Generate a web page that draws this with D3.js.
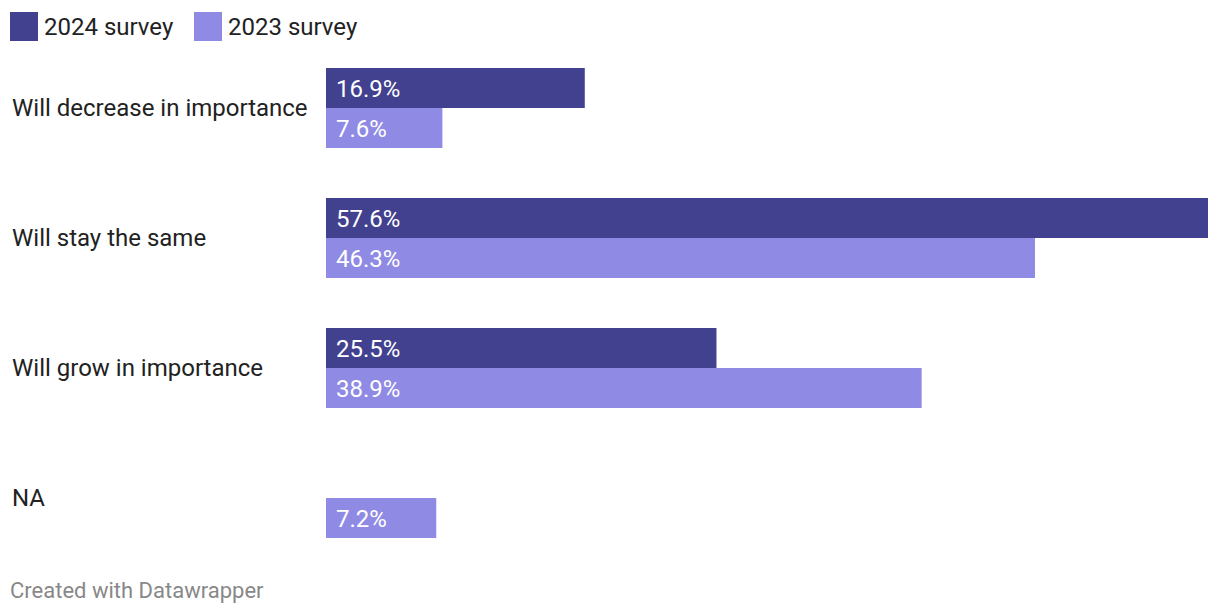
<!DOCTYPE html>
<html>
<head>
<meta charset="utf-8">
<script src="https://cdn.jsdelivr.net/npm/d3@7"></script>
<style>
  body { margin: 0; background: #fff; font-family: Roboto, sans-serif; }
</style>
</head>
<body>
<div id="chart"></div>
<script>
var categories = ["Will decrease in importance", "Will stay the same", "Will grow in importance", "NA"];
var seriesNames = ["2024 survey", "2023 survey"];
var values2024 = [16.9, 57.6, 25.5, null];
var values2023 = [7.6, 46.3, 38.9, 7.2];
var colors = ["#41418f", "#8f8ae3"];

var width = 1220, height = 616;
var svg = d3.select("#chart").append("svg")
    .attr("width", width)
    .attr("height", height);

// Legend
var legend = svg.append("g").attr("class", "legend");
var legendX = [10, 194];
seriesNames.forEach(function(name, i){
    var g = legend.append("g").attr("transform", "translate(" + legendX[i] + ",12)");
    g.append("rect").attr("width", 28).attr("height", 29).attr("fill", colors[i]);
    g.append("text")
        .attr("x", 34).attr("y", 14.5)
        .attr("dy", "0.35em")
        .attr("font-size", "24px")
        .attr("fill", "#222")
        .text(name);
});

// Scales
var x = d3.scaleLinear().domain([0, 57.6]).range([326, 1208]);
var y = d3.scaleBand().domain(categories).range([68, 588]).paddingInner(0).paddingOuter(0);
var barH = 40;

var rows = categories.map(function(c, i){
    return { cat: c, vals: [values2024[i], values2023[i]] };
});

var row = svg.selectAll(".row").data(rows).enter().append("g")
    .attr("class", "row")
    .attr("transform", function(d){ return "translate(0," + y(d.cat) + ")"; });

row.append("text")
    .attr("x", 12)
    .attr("y", barH)
    .attr("dy", "0.35em")
    .attr("font-size", "24px")
    .attr("fill", "#222")
    .text(function(d){ return d.cat; });

row.each(function(d){
    var g = d3.select(this);
    d.vals.forEach(function(v, j){
        if (v == null) return;
        g.append("rect")
            .attr("x", x(0))
            .attr("y", j * barH)
            .attr("width", x(v) - x(0))
            .attr("height", barH)
            .attr("fill", colors[j]);
        g.append("text")
            .attr("x", x(0) + 10)
            .attr("y", j * barH + barH / 2)
            .attr("dy", "0.36em")
            .attr("font-size", "24px")
            .attr("fill", "#fff")
            .text(v.toFixed(1) + "%");
    });
});

// Footer
svg.append("text")
    .attr("x", 10).attr("y", 598)
    .attr("font-size", "22px")
    .attr("fill", "#888")
    .text("Created with Datawrapper");
</script>
</body>
</html>
